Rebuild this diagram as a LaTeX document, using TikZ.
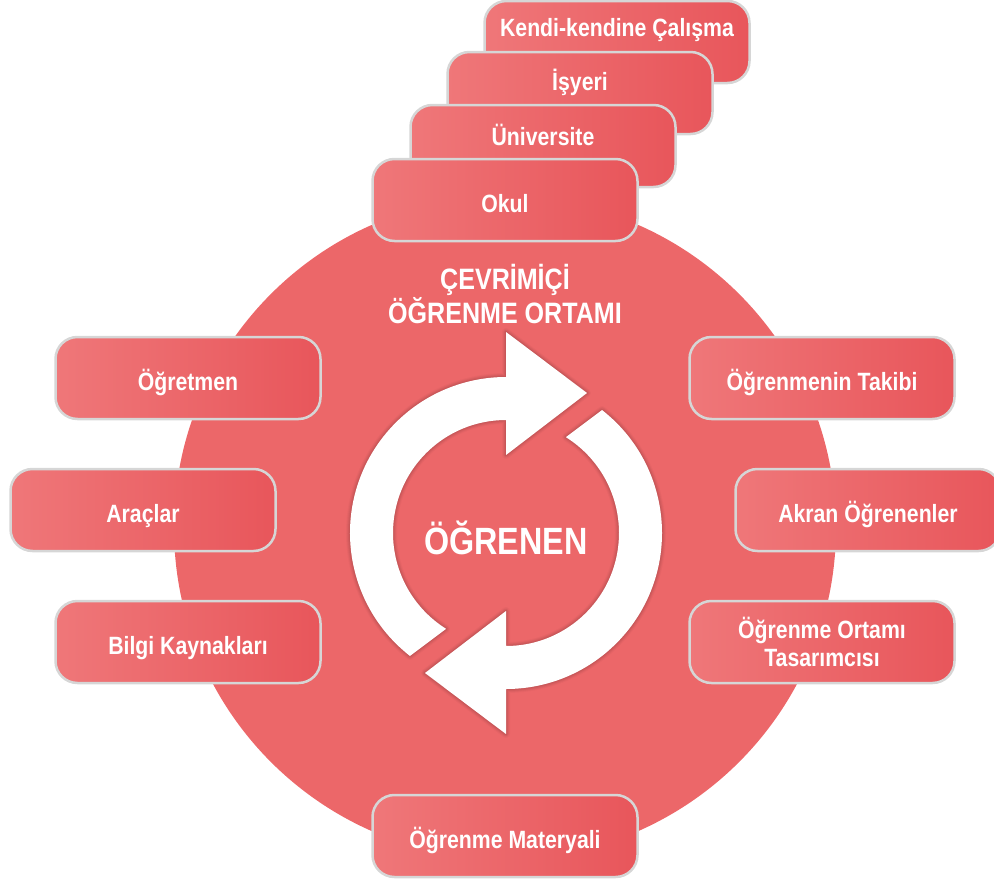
\documentclass[tikz,border=0pt]{standalone}
\usepackage{fontspec}
\setmainfont[FakeStretch=0.85]{Liberation Sans}
\usepackage{tikz}
\usetikzlibrary{positioning}
\usepackage{xcolor}

\definecolor{boxleft}{HTML}{EF7779}
\definecolor{boxright}{HTML}{E8565B}
\definecolor{ringfill}{HTML}{EC6769}
\definecolor{boxline}{HTML}{D6D6D6}
\newcommand\boxfont{\fontsize{25}{28}\selectfont\bfseries}

\begin{document}
\begin{tikzpicture}[x=1pt, y=-1pt,
		box/.style={draw=boxline, line width=2.5pt, rounded corners=22pt, left color=boxleft, right color=boxright, text=white, font=\boxfont, minimum width=265pt, minimum height=82pt, align=center},
		oneline/.style={text height=27pt, text depth=2pt}]
			\useasboundingbox (0,0) rectangle (994,881);
			% learning environment
			\fill[ringfill] (505,528) circle[radius=331];
			% stacked settings
			\node[box, text height=18pt, text depth=30pt] (Kendi) at (617,42) {Kendi-kendine Çalışma};
			\node[box, text height=18pt, text depth=24pt] (Isyeri) at (580,93) {İşyeri};
			\node[box, text height=18pt, text depth=20pt] (Univ) at (543,146) {Üniversite};
			\node[box, oneline] (Okul) at (505,200) {Okul};
			% side components
			\node[box, oneline] (Ogretmen) at (188,378) {Öğretmen};
			\node[box, oneline] (Araclar) at (143,510) {Araçlar};
			\node[box, oneline] (Bilgi) at (188,642) {Bilgi Kaynakları};
			\node[box, oneline] (Takip) at (822,378) {Öğrenmenin Takibi};
			\node[box, oneline] (Akran) at (868,510) {Akran Öğrenenler};
			\node[box] (Tasarim) at (822,642) {Öğrenme Ortamı\\Tasarımcısı};
			\node[box, oneline] (Materyal) at (505,836) {Öğrenme Materyali};
			% cycle arrows
			\begin{scope}[shift={(506,533)}, yscale=-1]
				\foreach \ang in {0,180} {
					\begin{scope}[rotate=\ang]
						\foreach \w/\o in {8/0.025, 6/0.035, 4/0.045, 2/0.05}
							\draw[black, line width=\w pt, opacity=\o, line join=round] (232:156) arc[start angle=232, end angle=90, radius=156] -- (0,201) -- (81,140) -- (0,78) -- (0,113) arc[start angle=90, end angle=238, radius=113] -- cycle;
						\fill[white] (232:156) arc[start angle=232, end angle=90, radius=156] -- (0,201) -- (81,140) -- (0,78) -- (0,113) arc[start angle=90, end angle=238, radius=113] -- cycle;
					\end{scope}
				}
			\end{scope}
			\node[text=white, font=\fontsize{29.5}{34}\selectfont\bfseries, align=center] (Ortam) at (505,294) {ÇEVRİMİÇİ\\ÖĞRENME ORTAMI};
			\node[text=white, font=\fontsize{38}{44}\selectfont\bfseries] (Ogrenen) at (506,538) {ÖĞRENEN};
		\end{tikzpicture}
\end{document}
